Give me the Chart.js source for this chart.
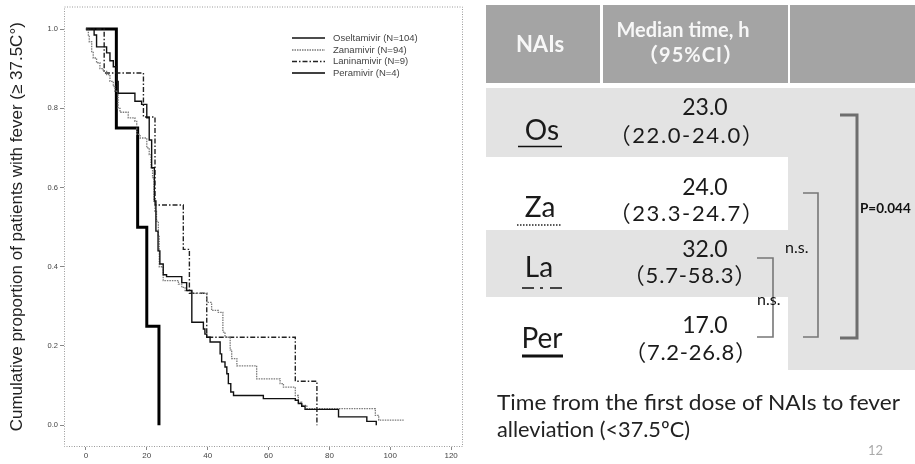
<!DOCTYPE html>
<html><head><meta charset="utf-8">
<script src="https://cdn.jsdelivr.net/npm/chart.js@4"></script>
<style>
html,body{margin:0;padding:0;background:#fff;width:915px;height:464px;overflow:hidden}
#wrap{position:absolute;left:0;top:0;width:470px;height:464px}
#side{position:absolute;left:0;top:0}
</style></head><body>
<div id="wrap"><canvas id="c" width="470" height="464"></canvas></div>
<svg id="side" width="915" height="464" viewBox="0 0 915 464" font-family="Lato, 'Noto Sans CJK JP', sans-serif">
  <!-- header cells -->
  <rect x="486" y="5" width="114" height="78" fill="#a4a4a4"/>
  <rect x="603" y="5" width="185" height="78" fill="#a4a4a4"/>
  <rect x="790" y="5" width="125" height="78" fill="#a4a4a4"/>
  <!-- body shading -->
  <rect x="486" y="88" width="429" height="69" fill="#e3e3e3"/>
  <rect x="486" y="230" width="429" height="67" fill="#e3e3e3"/>
  <rect x="788" y="88" width="127" height="282" fill="#e3e3e3"/>
  <!-- header text -->
  <text x="540" y="52" text-anchor="middle" font-weight="700" font-size="22" fill="#f7f7f7">NAIs</text>
  <text x="683" y="37" text-anchor="middle" font-weight="700" font-size="20" fill="#f7f7f7" textLength="133" lengthAdjust="spacingAndGlyphs">Median time, h</text>
  <text x="691" y="62" text-anchor="middle" font-weight="700" font-size="20" fill="#f7f7f7" letter-spacing="1">（95%CI）</text>
  <!-- rows -->
  <g fill="#1a1a1a">
    <text x="542" y="140" text-anchor="middle" font-size="28">Os</text>
    <text x="705" y="115" text-anchor="middle" font-size="23">23.0</text>
    <text x="687" y="143" text-anchor="middle" font-size="22" letter-spacing="1.6">（22.0-24.0）</text>
    <text x="540" y="217" text-anchor="middle" font-size="28">Za</text>
    <text x="705" y="195" text-anchor="middle" font-size="23">24.0</text>
    <text x="687" y="221" text-anchor="middle" font-size="22" letter-spacing="1.6">（23.3-24.7）</text>
    <text x="539" y="277" text-anchor="middle" font-size="28">La</text>
    <text x="705" y="257" text-anchor="middle" font-size="23">32.0</text>
    <text x="690" y="283" text-anchor="middle" font-size="22" letter-spacing="0.8">（5.7-58.3）</text>
    <text x="542" y="348" text-anchor="middle" font-size="28">Per</text>
    <text x="705" y="333" text-anchor="middle" font-size="23">17.0</text>
    <text x="691" y="360" text-anchor="middle" font-size="22" letter-spacing="0.7">（7.2-26.8）</text>
  </g>
  <!-- underline samples -->
  <line x1="518" y1="146.5" x2="562" y2="146.5" stroke="#111" stroke-width="1.5"/>
  <line x1="517" y1="225" x2="562" y2="225" stroke="#222" stroke-width="1.5" stroke-dasharray="1.5 1.5"/>
  <line x1="522" y1="288" x2="562" y2="288" stroke="#111" stroke-width="1.5" stroke-dasharray="12 6 3 7 12"/>
  <line x1="522" y1="356" x2="563" y2="356" stroke="#111" stroke-width="3"/>
  <!-- brackets -->
  <polyline points="840,115 857,115 857,338 840,338" fill="none" stroke="#6e6e6e" stroke-width="3"/>
  <polyline points="803,193 818,193 818,337 803,337" fill="none" stroke="#777" stroke-width="1.6"/>
  <polyline points="757,258 773,258 773,337 757,337" fill="none" stroke="#777" stroke-width="1.6"/>
  <text x="860" y="213" font-size="13.5" font-weight="700" fill="#111">P=0.044</text>
  <text x="785" y="253" font-size="16" fill="#111">n.s.</text>
  <text x="757" y="305" font-size="16" fill="#111">n.s.</text>
  <!-- caption -->
  <text x="497" y="410" font-size="22" fill="#222" textLength="403" lengthAdjust="spacingAndGlyphs">Time from the first dose of NAIs to fever</text>
  <text x="497" y="437" font-size="22" fill="#222" textLength="193" lengthAdjust="spacingAndGlyphs">alleviation (&lt;37.5ºC)</text>
  <text x="868" y="455" font-size="13" fill="#aaa">12</text>
</svg>
<script>
// ---- data ----
const seriesNames = ["Oseltamivir (N=104)", "Zanamivir (N=94)", "Laninamivir (N=9)", "Peramivir (N=4)"];
const osTime = [0, 2.7, 3.5, 6.8, 7.9, 9.0, 10.1, 10.6, 16.1, 18.3, 20.0, 20.8, 21.6, 22.5, 23.0, 23.7, 24.3, 25.4, 26.5, 31.5, 33.1, 34.8, 38.6, 39.1, 39.7, 40.8, 44.1, 44.6, 45.7, 46.3, 46.8, 47.6, 48.5, 58.3, 68.8, 69.8, 70.9, 72.0, 83.0, 92.3, 95.4];
const osSurv = [1, 0.985, 0.955, 0.94, 0.92, 0.905, 0.868, 0.838, 0.818, 0.81, 0.776, 0.72, 0.65, 0.566, 0.49, 0.44, 0.407, 0.38, 0.375, 0.36, 0.34, 0.26, 0.243, 0.23, 0.222, 0.21, 0.18, 0.16, 0.147, 0.13, 0.105, 0.084, 0.075, 0.067, 0.063, 0.055, 0.048, 0.04, 0.021, 0.0096, 0];
const zaTime = [0, 0.8, 1.1, 1.9, 2.4, 3.5, 4.6, 5.7, 6.8, 7.9, 9.0, 9.5, 10.6, 11.2, 13.9, 16.1, 16.7, 17.8, 20.0, 20.8, 21.4, 21.9, 22.4, 22.7, 23.2, 23.8, 24.1, 25.4, 30.4, 31.5, 32.6, 34.8, 39.7, 41.3, 43.5, 45.0, 45.7, 47.4, 47.9, 49.6, 56.1, 63.8, 64.9, 68.8, 69.8, 70.9, 72.6, 95.1, 96.2, 104.4];
const zaSurv = [1, 0.985, 0.968, 0.943, 0.927, 0.915, 0.90, 0.893, 0.885, 0.868, 0.855, 0.843, 0.80, 0.79, 0.776, 0.767, 0.734, 0.725, 0.70, 0.683, 0.65, 0.625, 0.566, 0.54, 0.515, 0.48, 0.40, 0.365, 0.356, 0.348, 0.34, 0.333, 0.31, 0.29, 0.285, 0.235, 0.222, 0.19, 0.168, 0.15, 0.117, 0.105, 0.096, 0.075, 0.058, 0.05, 0.042, 0.025, 0.0126, 0.0126];
const laTime = [0, 6, 18.9, 22.7, 32, 34, 39.7, 68.8, 75.9];
const laSurv = [1, 0.889, 0.778, 0.556, 0.444, 0.333, 0.222, 0.111, 0];
const perTime = [0, 10, 17, 20, 24];
const perSurv = [1, 0.75, 0.5, 0.25, 0];
const xTicks = [0, 20, 40, 60, 80, 100, 120];
const yTicks = [0, 0.2, 0.4, 0.6, 0.8, 1.0];

const pts = (t, s) => t.map((v, i) => ({x: v, y: s[i]}));

const styles = [
  {borderColor: '#111', borderWidth: 1.4, borderDash: []},
  {borderColor: '#7a7a7a', borderWidth: 1.3, borderDash: [1.5, 1]},
  {borderColor: '#222', borderWidth: 1.4, borderDash: [5, 2, 1.5, 2]},
  {borderColor: '#000', borderWidth: 3, borderDash: []}
];
const dataSets = [pts(osTime, osSurv), pts(zaTime, zaSurv), pts(laTime, laSurv), pts(perTime, perSurv)];

const framePlugin = {
  id: 'frame',
  beforeDatasetsDraw(chart) {
    const {ctx, chartArea: a} = chart;
    ctx.save();
    ctx.strokeStyle = '#9a9a9a';
    ctx.lineWidth = 1;
    ctx.setLineDash([1, 1.5]);
    ctx.strokeRect(a.left + 0.5, a.top + 0.5, a.right - a.left - 1, a.bottom - a.top - 1);
    ctx.restore();
  }
};
const legendPlugin = {
  id: 'kmLegend',
  afterDatasetsDraw(chart) {
    const {ctx, chartArea: a} = chart;
    const x0 = a.right - 171, rows = [38, 50, 61.5, 73];
    ctx.save();
    ctx.font = '9.5px "Liberation Sans", Arial, sans-serif';
    ctx.textBaseline = 'middle';
    chart.data.datasets.forEach((ds, i) => {
      ctx.strokeStyle = ds.borderColor;
      ctx.lineWidth = Math.min(ds.borderWidth, 1.4);
      ctx.setLineDash(ds.borderDash || []);
      ctx.beginPath();
      ctx.moveTo(x0, rows[i]);
      ctx.lineTo(x0 + 33, rows[i]);
      ctx.stroke();
      ctx.setLineDash([]);
      ctx.fillStyle = '#444';
      ctx.fillText(ds.label, x0 + 41, rows[i]);
    });
    ctx.restore();
  }
};

new Chart(document.getElementById('c'), {
  type: 'line',
  data: {
    datasets: dataSets.map((d, i) => Object.assign({
      label: seriesNames[i], data: d, stepped: 'before', pointRadius: 0, fill: false, tension: 0
    }, styles[i]))
  },
  options: {
    responsive: false, animation: false, devicePixelRatio: 1,
    layout: {padding: {top: 5, right: 7, left: 0, bottom: 0}},
    plugins: {legend: {display: false}, tooltip: {enabled: false}},
    scales: {
      x: {
        type: 'linear', min: -7.2, max: 123.9,
        afterBuildTicks: s => { s.ticks = xTicks.map(v => ({value: v})); },
        afterFit: s => { s.height = 17; },
        grid: {drawOnChartArea: false, drawTicks: true, tickLength: 3, color: '#888'},
        border: {display: false},
        ticks: {font: {size: 8, family: 'Liberation Sans'}, color: '#444', padding: 1, maxRotation: 0, autoSkip: false}
      },
      y: {
        type: 'linear', min: -0.055, max: 1.057,
        afterBuildTicks: s => { s.ticks = yTicks.map(v => ({value: v})); },
        afterFit: s => { s.width = 64; },
        grid: {drawOnChartArea: false, drawTicks: true, tickLength: 4, color: '#888'},
        border: {display: false},
        ticks: {font: {size: 7.5, family: 'Liberation Sans'}, color: '#444', padding: 2, callback: v => Number(v).toFixed(1)},
        title: {display: true, text: 'Cumulative proportion of patients with fever (≥ 37.5C°)', font: {size: 17, family: 'Liberation Sans'}, color: '#222', padding: {top: 7, bottom: 0}}
      }
    }
  },
  plugins: [framePlugin, legendPlugin]
});
</script>
</body></html>
